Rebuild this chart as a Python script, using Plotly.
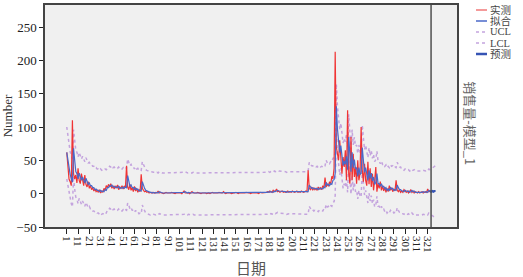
import plotly.graph_objects as go

# ---------------- data ----------------
actual = [
    62, 40, 22, 18, 12, 110, 30, 22, 28, 16,
    38, 20, 15, 30, 18, 12, 28, 14, 10, 18,
    8, 12, 6, 9, 4, 7, 3, 5, 2, 6,
    1, 4, 2, 8, 5, 12, 9, 14, 10, 15,
    8, 12, 7, 11, 9, 13, 6, 10, 8, 12,
    7, 11, 9, 42, 10, 6, 14, 5, 9, 3,
    11, 4, 8, 2, 6, 3, 29, 8, 5, 3,
    4, 2, 3, 1, 2,
    1, 2, 1, 1, 2, 1, 4, 1, 2, 1,
    1, 0, 1, 2, 1, 1, 0, 1, 2, 1,
    1, 0, 1, 1, 2, 1, 1, 0, 2, 4,
    1, 1, 2, 1, 0, 1, 3, 1, 1, 0,
    1, 2, 1, 1, 0, 1, 1, 2, 1, 0,
    1, 1, 0, 1, 2, 1, 1, 0, 1, 1,
    2, 1, 1, 1, 3, 1, 0, 1, 1, 2,
    1, 0, 1, 1, 1, 2, 1, 0, 1, 1,
    1, 1, 0, 1, 2, 1, 1, 1, 0, 1,
    1, 2, 1, 1, 1, 0, 1, 2, 1, 1,
    2, 1, 2, 3, 2, 4, 3, 2, 5, 3,
    4, 7, 3, 4, 2, 3, 4, 2, 3, 2,
    3, 4, 2, 3, 2, 4, 3, 2, 3, 4,
    2, 3, 2, 4, 3, 2, 3, 4, 3,
    35, 8, 6, 10, 5, 9, 6, 8, 5, 10,
    7, 9, 6, 12, 8, 24, 10, 15, 11, 18,
    14, 26, 22, 38, 213, 70, 60, 50, 80, 45,
    30, 55, 40, 65, 20, 125, 30, 15, 85, 20,
    60, 25, 40, 15, 50, 20, 30, 100, 35, 18,
    45, 20, 12, 48, 14, 38, 10, 30, 5, 20,
    40, 3, 15, 8, 18, 5, 12, 4, 10, 2,
    8, 3, 12, 5, 9, 3, 7, 4, 20, 5,
    3, 6, 2, 4, 2, 6, 3, 2, 4, 1,
    3, 6, 2, 4, 1, 3, 2, 1, 3, 1,
    2, 3, 1, 2, 3, 2, 7, 3, 4,
]

fitted = [
    62, 50, 38, 29, 23, 17, 68, 47, 33, 30,
    22, 31, 25, 20, 25, 21, 16, 23, 18, 14,
    16, 12, 12, 9, 9, 6, 7, 5, 5, 3,
    5, 3, 4, 3, 6, 5, 9, 9, 12, 11,
    13, 10, 11, 9, 10, 9, 11, 8, 9, 8,
    10, 8, 10, 9, 27, 18, 11, 13, 9, 9,
    6, 9, 6, 7, 4, 5, 4, 18, 12, 8,
    5, 4, 3, 3, 2,
    2, 1, 2, 1, 1, 2, 1, 3, 2, 2,
    1, 1, 1, 1, 2, 1, 1, 1, 1, 1,
    1, 1, 1, 1, 1, 2, 1, 1, 1, 2,
    3, 2, 1, 2, 1, 1, 1, 2, 1, 1,
    1, 1, 2, 1, 1, 1, 1, 1, 2, 1,
    1, 1, 1, 1, 1, 2, 1, 1, 1, 1,
    1, 2, 1, 1, 1, 2, 1, 1, 1, 1,
    2, 1, 1, 1, 1, 1, 2, 1, 1, 1,
    1, 1, 1, 1, 1, 2, 1, 1, 1, 1,
    1, 1, 2, 1, 1, 1, 1, 1, 2, 1,
    1, 2, 1, 2, 3, 2, 3, 3, 2, 4,
    3, 4, 5, 4, 4, 3, 3, 4, 3, 3,
    2, 3, 3, 3, 3, 2, 3, 3, 2, 3,
    3, 3, 3, 2, 3, 3, 3, 3, 3,
    3, 13, 10, 8, 9, 7, 8, 7, 8, 6,
    8, 7, 8, 7, 10, 9, 17, 13, 14, 12,
    15, 14, 20, 21, 30, 131, 97, 77, 62, 72,
    57, 42, 49, 44, 56, 36, 85, 55, 33, 62,
    39, 51, 37, 39, 26, 39, 29, 30, 69, 50,
    32, 39, 29, 20, 35, 23, 31, 19, 25, 14,
    17, 30, 15, 15, 11, 15, 10, 11, 7, 9,
    5, 7, 5, 9, 7, 8, 5, 6, 5, 13,
    9, 6, 6, 4, 4, 3, 5, 4, 3, 4,
    2, 3, 5, 3, 4, 2, 2, 2, 1, 2,
    1, 2, 3, 2, 2, 3, 2, 5, 4,
]

ucl = [
    100, 85, 72, 63, 57, 52, 96, 78, 65, 62,
    55, 62, 57, 52, 56, 53, 48, 54, 50, 46,
    47, 44, 44, 41, 41, 38, 39, 37, 37, 35,
    37, 35, 36, 35, 37, 36, 38, 38, 41, 40,
    42, 39, 40, 38, 39, 38, 40, 37, 38, 37,
    39, 37, 39, 38, 52, 46, 42, 44, 40, 40,
    37, 40, 37, 38, 35, 36, 35, 48, 43, 39,
    36, 35, 34, 34, 33,
    33, 32, 32, 32, 31, 32, 31, 33, 32, 32,
    31, 31, 31, 31, 32, 31, 31, 31, 31, 31,
    31, 31, 31, 31, 31, 32, 31, 31, 31, 32,
    33, 32, 31, 32, 31, 31, 31, 32, 31, 31,
    31, 31, 32, 31, 31, 31, 31, 31, 32, 31,
    31, 31, 31, 31, 31, 32, 31, 31, 31, 31,
    31, 32, 31, 31, 31, 32, 31, 31, 31, 31,
    32, 31, 31, 31, 31, 31, 32, 31, 31, 31,
    31, 31, 31, 31, 31, 32, 31, 31, 31, 31,
    31, 31, 32, 31, 31, 31, 31, 31, 32, 31,
    31, 32, 31, 32, 33, 32, 33, 33, 32, 34,
    33, 34, 35, 34, 34, 33, 33, 34, 33, 33,
    32, 33, 33, 33, 33, 32, 33, 33, 32, 33,
    33, 33, 33, 32, 33, 33, 33, 33, 33,
    34, 47, 44, 42, 42, 40, 41, 40, 41, 39,
    41, 40, 41, 40, 43, 42, 50, 46, 47, 45,
    48, 47, 53, 54, 63, 165, 131, 111, 96, 106,
    91, 76, 83, 78, 90, 70, 119, 89, 67, 96,
    73, 85, 71, 73, 60, 73, 63, 64, 103, 84,
    66, 73, 63, 54, 69, 57, 65, 53, 59, 48,
    51, 64, 49, 49, 45, 49, 44, 45, 41, 43,
    39, 41, 39, 43, 41, 42, 39, 40, 39, 47,
    43, 40, 40, 36, 36, 35, 37, 36, 35, 36,
    34, 35, 37, 35, 36, 34, 34, 34, 33, 34,
    33, 34, 35, 34, 34, 35, 34, 37, 36,
    37, 38, 39, 40, 42,
]

lcl = [
    22, 12, 0, -9, -15, -20, 26, 7, -5, -8,
    -15, -7, -12, -16, -11, -15, -19, -13, -17, -21,
    -19, -23, -23, -26, -26, -28, -27, -29, -29, -31,
    -29, -31, -30, -31, -28, -29, -25, -25, -22, -23,
    -21, -24, -23, -25, -24, -25, -23, -26, -25, -26,
    -24, -26, -24, -25, -14, -17, -23, -21, -25, -25,
    -28, -25, -28, -27, -30, -29, -30, -17, -22, -26,
    -29, -30, -31, -31, -32,
    -31, -32, -31, -32, -32, -31, -32, -30, -31, -31,
    -32, -32, -32, -32, -31, -32, -32, -32, -32, -32,
    -32, -32, -32, -32, -32, -31, -32, -32, -32, -31,
    -30, -31, -32, -31, -32, -32, -32, -31, -32, -32,
    -32, -32, -31, -32, -32, -32, -32, -32, -31, -32,
    -32, -32, -32, -32, -32, -31, -32, -32, -32, -32,
    -32, -31, -32, -32, -32, -31, -32, -32, -32, -32,
    -31, -32, -32, -32, -32, -32, -31, -32, -32, -32,
    -32, -32, -32, -32, -32, -31, -32, -32, -32, -32,
    -32, -32, -31, -32, -32, -32, -32, -32, -31, -32,
    -32, -31, -32, -31, -30, -31, -30, -30, -31, -29,
    -30, -29, -28, -29, -29, -30, -30, -29, -30, -30,
    -31, -30, -30, -30, -30, -31, -30, -30, -31, -30,
    -30, -30, -30, -31, -30, -30, -30, -30, -30,
    -31, -19, -22, -25, -24, -26, -25, -26, -25, -27,
    -25, -26, -25, -26, -23, -24, -16, -20, -19, -21,
    -18, -19, -13, -12, -3, 97, 63, 43, 28, 38,
    23, 8, 15, 10, 22, 2, 51, 21, -1, 28,
    5, 17, 3, 5, -8, 5, -5, -4, 35, 16,
    -2, 5, -5, -14, 1, -11, -3, -15, -9, -20,
    -17, -4, -19, -19, -23, -19, -24, -23, -27, -25,
    -29, -27, -29, -25, -27, -26, -29, -28, -29, -21,
    -25, -28, -28, -30, -30, -31, -29, -30, -31, -30,
    -32, -31, -29, -31, -30, -32, -32, -32, -33, -32,
    -33, -32, -31, -32, -32, -31, -32, -29, -30,
    -31, -33, -34, -36, -38,
]

forecast = [4, 3, 4, 3, 4, 4]

x_tick_values = list(range(1, 322, 10))
x_tick_labels = [str(v) for v in x_tick_values]
y_tick_values = [-50, 0, 50, 100, 150, 200, 250]

strip_label = "销售量-模型_1"
legend_names = ["实测", "拟合", "UCL", "LCL", "预测"]

# ---------------- derived day indexes ----------------
days_actual = list(range(1, len(actual) + 1))
days_fitted = list(range(1, len(fitted) + 1))
days_band = list(range(1, len(ucl) + 1))
forecast_start = len(actual)
days_forecast = list(range(forecast_start, forecast_start + len(forecast)))
forecast_origin = len(actual) + 1

# ---------------- styles ----------------
RED = "#f03434"
BLUE = "#4a68c8"
DARKBLUE = "#3654b4"
LAV = "#c4a4de"
SERIF = "Liberation Serif, Noto Sans CJK SC, serif"

fig = go.Figure()
fig.add_trace(go.Scatter(x=days_band, y=ucl, mode="lines", name="UCL",
                         line=dict(color=LAV, width=1.5, dash="dot")))
fig.add_trace(go.Scatter(x=days_band, y=lcl, mode="lines", name="LCL",
                         line=dict(color=LAV, width=1.5, dash="dot")))
fig.add_trace(go.Scatter(x=days_actual, y=actual, mode="lines", name="实测",
                         line=dict(color=RED, width=1.2)))
fig.add_trace(go.Scatter(x=days_fitted, y=fitted, mode="lines", name="拟合",
                         line=dict(color=BLUE, width=1.2)))
fig.add_trace(go.Scatter(x=days_forecast, y=forecast, mode="lines", name="预测",
                         line=dict(color=DARKBLUE, width=2.2)))

# forecast origin reference line
fig.add_vline(x=forecast_origin, line=dict(color="#505050", width=1.5))

fig.update_layout(
    width=523, height=277,
    margin=dict(l=45, r=66, t=5, b=50, autoexpand=False),
    paper_bgcolor="white",
    plot_bgcolor="#f0f0f0",
    showlegend=False,
    font=dict(family=SERIF, color="#303030"),
)

fig.update_xaxes(
    range=[-18.3, 347], automargin=False,
    tickmode="array", tickvals=x_tick_values, ticktext=x_tick_labels,
    tickangle=90, ticks="outside", ticklen=5, tickcolor="#222", tickwidth=1,
    tickfont=dict(size=11, family=SERIF, color="#222"),
    showline=True, linecolor="#444", linewidth=1.5, mirror=True,
    showgrid=False, zeroline=False,
    title=dict(text="日期", font=dict(size=15, family=SERIF, color="#555"), standoff=14),
)
fig.update_yaxes(
    range=[-50, 283], automargin=False,
    tickmode="array", tickvals=y_tick_values,
    ticks="outside", ticklen=4, tickcolor="#222", tickwidth=1,
    tickfont=dict(size=13, family=SERIF, color="#222"),
    showline=True, linecolor="#444", linewidth=1.5, mirror=True,
    showgrid=False, zeroline=False,
    title=dict(text="Number", font=dict(size=13, family=SERIF, color="#333"), standoff=4),
)

# facet strip label on the right side
fig.add_annotation(xref="paper", yref="paper", x=1.0, y=0.47, xanchor="left",
                   xshift=2, text=strip_label, textangle=90, showarrow=False,
                   font=dict(size=13, family="Noto Sans CJK SC", color="#666"))

# manual compact legend
legend_styles = [
    dict(color="#f07878", width=1.5, dash="solid"),
    dict(color=BLUE, width=1.5, dash="solid"),
    dict(color=LAV, width=1.5, dash="dot"),
    dict(color=LAV, width=1.5, dash="dot"),
    dict(color=DARKBLUE, width=2.5, dash="solid"),
]
for i, (name, st) in enumerate(zip(legend_names, legend_styles)):
    ypix = 10 + i * 11
    yp = 1 - (ypix - 5) / 222
    fig.add_shape(type="line", xref="paper", yref="paper",
                  x0=(476 - 45) / 412, x1=(487 - 45) / 412, y0=yp, y1=yp,
                  line=st)
    fig.add_annotation(xref="paper", yref="paper", x=(489 - 45) / 412, y=yp,
                       xanchor="left", yanchor="middle", text=name, showarrow=False,
                       borderpad=0,
                       font=dict(size=10.5, family=SERIF, color="#444"))

fig.write_html(
    "out.html",
    config={"displayModeBar": False},
    post_script="document.body.style.margin='0';document.body.style.padding='0';",
)
